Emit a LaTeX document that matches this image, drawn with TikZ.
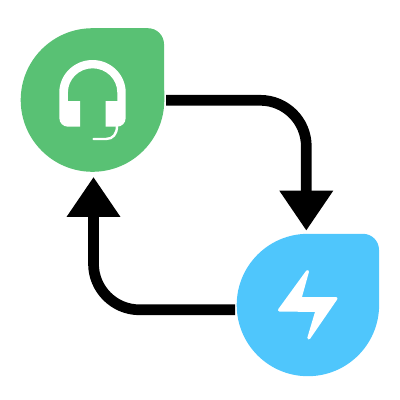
\documentclass[tikz,border=0pt]{standalone}
\usetikzlibrary{arrows.meta,calc}
\definecolor{leaf}{HTML}{59C174}
\definecolor{sky}{HTML}{4FC6FC}
\tikzset{
  x=1pt,y=-1pt,
  anchorcircle/.style={circle,minimum size=144pt,inner sep=0pt,outer sep=0pt},
  flow/.style={line width=10.7pt,rounded corners=46pt,-{Triangle[width=51pt,length=40pt]}},
  icon/.style={fill=white,draw=none}
}
\begin{document}
\begin{tikzpicture}
\useasboundingbox (0,0) rectangle (400,400);
% green drop
\fill[leaf] (20.7,100) arc[start angle=180,end angle=90,radius=71.8pt]
  -- (148,28.2) arc[start angle=90,end angle=0,radius=16pt]
  -- (164.3,100) arc[start angle=0,end angle=-180,radius=71.8pt] -- cycle;
\node[anchorcircle] (green) at (92.5,100) {};
% blue drop
\fill[sky] (236.7,305) arc[start angle=180,end angle=90,radius=71.2pt]
  -- (363,233.8) arc[start angle=90,end angle=0,radius=16pt]
  -- (379.1,305) arc[start angle=0,end angle=-180,radius=71.2pt] -- cycle;
\node[anchorcircle,minimum size=142.4pt] (blue) at (307.9,305) {};
% connectors
\coordinate (greenout) at ($(green.east)+(1.7,0.3)$);
\coordinate (bluein) at ($(blue.north)+(-1.6,-3.1)$);
\coordinate (blueout) at ($(blue.west)+(-1.7,4.8)$);
\coordinate (greenin) at ($(green.south)+(1,4.9)$);
\draw[flow] (greenout) -- (greenout -| bluein) -- (bluein);
\draw[flow] (blueout) -- (blueout -| greenin) -- (greenin);
% headset
\fill[icon] (59.3,101) -- (59.3,92.5) arc[start angle=180,end angle=0,x radius=33.2pt,y radius=32.5pt]
  -- (125.7,118) arc[start angle=0,end angle=-90,radius=8.7pt]
  -- (105.7,126.7) -- (105.7,101) -- (117.3,101) -- (117.3,92.5)
  arc[start angle=0,end angle=180,x radius=24.7pt,y radius=24.2pt]
  -- (68,101) -- (80,101) -- (80,126.7) -- (68,126.7)
  arc[start angle=-90,end angle=-180,radius=8.7pt] -- cycle;
\draw[white,line width=2.4pt,line cap=round] (117,126) .. controls (117,134) and (113,139) .. (106,139) -- (93.5,139);
% bolt
\fill[icon,draw=white,line width=3pt,line join=round]
  (307.5,271.5) -- (300,298.5) -- (336,298.5) -- (308.8,338) -- (317,310.5) -- (279.5,310) -- cycle;
\end{tikzpicture}
\end{document}
